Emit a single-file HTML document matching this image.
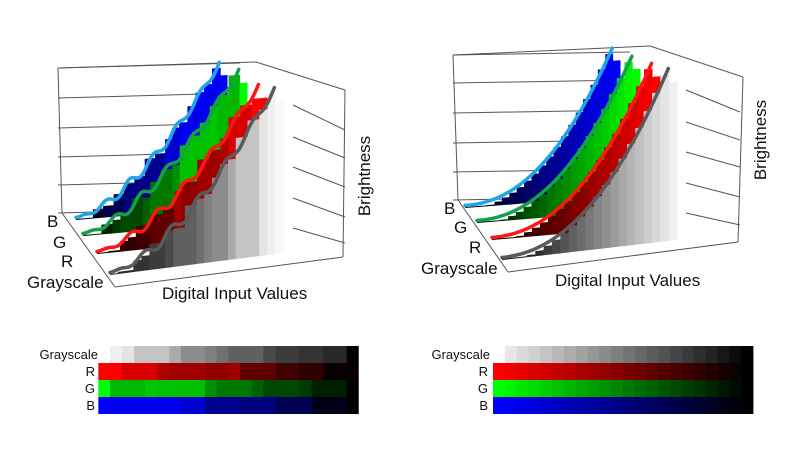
<!DOCTYPE html>
<html><head><meta charset="utf-8">
<style>
html,body{margin:0;padding:0;background:#fff;}
svg{display:block;font-family:"Liberation Sans",Arial,sans-serif;}
</style></head>
<body>
<svg id="s" width="800" height="451" viewBox="0 0 800 451" xmlns="http://www.w3.org/2000/svg">
<rect width="800" height="451" fill="#fff"/>
<g id="g"></g>
<g font-size="17" fill="#111">
<text x="47" y="227">B</text>
<text x="53" y="248">G</text>
<text x="61" y="267">R</text>
<text x="27" y="288">Grayscale</text>
<text x="162" y="299">Digital Input Values</text>
<text transform="translate(370,176) rotate(-90)" text-anchor="middle">Brightness</text>
<text x="444" y="214">B</text>
<text x="454" y="233">G</text>
<text x="469" y="253">R</text>
<text x="421" y="274">Grayscale</text>
<text x="555" y="286">Digital Input Values</text>
<text transform="translate(766,140) rotate(-90)" text-anchor="middle">Brightness</text>
</g>
<g font-size="13" fill="#111">
<text x="98" y="359" text-anchor="end">Grayscale</text>
<text x="95" y="376" text-anchor="end">R</text>
<text x="95" y="393" text-anchor="end">G</text>
<text x="95" y="410" text-anchor="end">B</text>
<text x="490" y="359" text-anchor="end">Grayscale</text>
<text x="488" y="376" text-anchor="end">R</text>
<text x="488" y="393" text-anchor="end">G</text>
<text x="488" y="410" text-anchor="end">B</text>
</g>
</svg>
<script>
const NS="http://www.w3.org/2000/svg",G=document.getElementById('g');
function el(t,a){const e=document.createElementNS(NS,t);for(const k in a)e.setAttribute(k,a[k]);G.appendChild(e);return e;}
function line(x1,y1,x2,y2){el('line',{x1,y1,x2,y2,stroke:'#555','stroke-width':1});}
[68,98,128,157,185,213].forEach((y,i)=>line(58,y,240,y-5));
line(58,68,256,62);line(256,62,345,90);line(345,90,343,257);line(58,68,62,213);
line(62,213,115,287);line(115,287,343,257);
[[105,130],[137,158],[167,187],[198,217],[228,243]].forEach(p=>line(293,p[0],345,p[1]));
[55,83,113,143,172,200].forEach(y=>line(453,y,630,y-3));
line(453,55,650,46);line(650,46,743,77);line(743,77,738,242);line(453,55,458,200);
line(458,200,508,272);line(508,272,738,242);
[[90,112],[122,140],[152,167],[183,197],[213,225]].forEach(p=>line(686,p[0],740,p[1]));
function hex(v){v=Math.max(0,Math.min(255,Math.round(v)));return v.toString(16).padStart(2,'0');}
const L={gray:[[240,275,'#f0f0f0'],[275,312,'#e4e4e4'],[312,418,'#c4c4c4'],[418,453,'#aaaaaa'],[453,525,'#8c8c8c'],[525,560,'#808080'],[560,595,'#707070'],[595,700,'#606060'],[700,737,'#4a4a4a'],[737,807,'#3c3c3c'],[807,880,'#333333'],[880,950,'#282828'],[950,985,'#000000']],
R:[[205,275,'#ff0000'],[275,382,'#d80000'],[382,418,'#b00000'],[418,525,'#a00000'],[525,595,'#900000'],[595,630,'#a00000'],[630,737,'#600000'],[737,807,'#400000'],[807,880,'#300000'],[880,985,'#080000']],
G:[[205,240,'#00ff00'],[240,345,'#00b800'],[345,382,'#00c800'],[382,525,'#00c000'],[525,560,'#009000'],[560,665,'#007800'],[665,700,'#006000'],[700,807,'#004800'],[807,845,'#003c00'],[845,950,'#002000'],[950,985,'#000000']],
B:[[205,240,'#0000ff'],[240,452,'#0000f0'],[452,525,'#0000d0'],[525,630,'#000090'],[630,737,'#000080'],[737,845,'#000050'],[845,950,'#000018'],[950,985,'#000000']]};
const rows={gray:346,R:363,G:380,B:397};
for(const k in L)L[k].forEach(c=>el('rect',{x:30+c[0]/3,y:rows[k],width:(c[1]-c[0])/3+0.4,height:17,fill:c[2]}));
const N=22,w=(753-493)/N;
for(let i=0;i<N;i++){const v=255*(1-i/(N-1));
 if(i>0)el('rect',{x:493+i*w,y:346,width:w+0.4,height:17,fill:'#'+hex(v*0.95)+hex(v*0.95)+hex(v*0.95)});
 el('rect',{x:493+i*w,y:363,width:w+0.4,height:17,fill:'#'+hex(v)+'0000'});
 el('rect',{x:493+i*w,y:380,width:w+0.4,height:17,fill:'#00'+hex(v)+'00'});
 el('rect',{x:493+i*w,y:397,width:w+0.4,height:17,fill:'#0000'+hex(v)});}
function curve(t,H,smooth){ if(smooth)return H*Math.pow(t,2.2);
 return Math.max(0,H*(Math.pow(t,1.6)+0.04*Math.sin(t*38)*Math.min(1,t*3)*(1-t*0.5)));}
function series(s,cells,lineCol,smooth){
 const [sx,sy,ex,ey,H]=s;
 const P=t=>[sx+(ex-sx)*t,sy+(ey-sy)*t];
 cells.forEach(c=>{const [t0,t1,color]=c;
  let h=curve(Math.min(t1,0.95)/0.95,H,smooth)-(smooth?3:3);
  if(t1>0.99)h=H*0.93; h=Math.max(h,1);
  const a=P(t0),b=P(t1);
  el('polygon',{points:`${a[0]},${a[1]} ${b[0]+0.5},${b[1]} ${b[0]+0.5},${b[1]-h} ${a[0]},${a[1]-h}`,fill:color});});
 let d='';const M=80;
 for(let i=0;i<=M;i++){const t=i/M*0.95;const h=curve(t/0.95,H,smooth);
  const p=P(t);d+=(i?'L':'M')+(p[0]).toFixed(1)+','+(p[1]-h-2.5).toFixed(1);}
 el('path',{d,fill:'none',stroke:lineCol,'stroke-width':3.5,'stroke-linecap':'round','stroke-linejoin':'round'});
}
function mkCells(list,kind){
 const x0=205,x1=985;const out=[];
 list.slice().reverse().forEach(c=>{
  const t0=(x1-c[1])/(x1-x0),t1=(x1-c[0])/(x1-x0);
  let color=c[2];if(kind=='gray'&&color=='#000000')color='#222222';
  const n=Math.max(1,Math.round((t1-t0)/0.06));
  for(let j=0;j<n;j++)out.push([t0+(t1-t0)*j/n,t0+(t1-t0)*(j+1)/n,color]);});
 if(kind=='gray')out.push([(985-240)/780,1,'#f8f8f8']);
 return out;}
const LS={B:[76,220,227,207,142],G:[83,236,247,222,150],R:[97,254,267,237,150],gray:[110,275,283,253,163]};
series(LS.B,mkCells(L.B),'#1ea6e6',false);
series(LS.G,mkCells(L.G),'#13a04a',false);
series(LS.R,mkCells(L.R),'#ff1515',false);
series(LS.gray,mkCells(L.gray,'gray'),'#5a5a5a',false);
function rc(f){const o=[];for(let i=0;i<21;i++){const v=i/20;o.push([i/21,(i+1)/21,f(v)]);}return o;}
const RS={B:[465,208,620,196,146],G:[477,223,640,210,152],R:[492,240,660,225,160],gray:[502,260,677,240,170]};
series(RS.B,rc(v=>'#0000'+hex(v*255)),'#1ea6e6',true);
series(RS.G,rc(v=>'#00'+hex(v*255)+'00'),'#13a04a',true);
series(RS.R,rc(v=>'#'+hex(v*255)+'0000'),'#ff1515',true);
series(RS.gray,rc(v=>{const g=hex(v*240);return '#'+g+g+g;}),'#5a5a5a',true);
</script>
</body></html>
